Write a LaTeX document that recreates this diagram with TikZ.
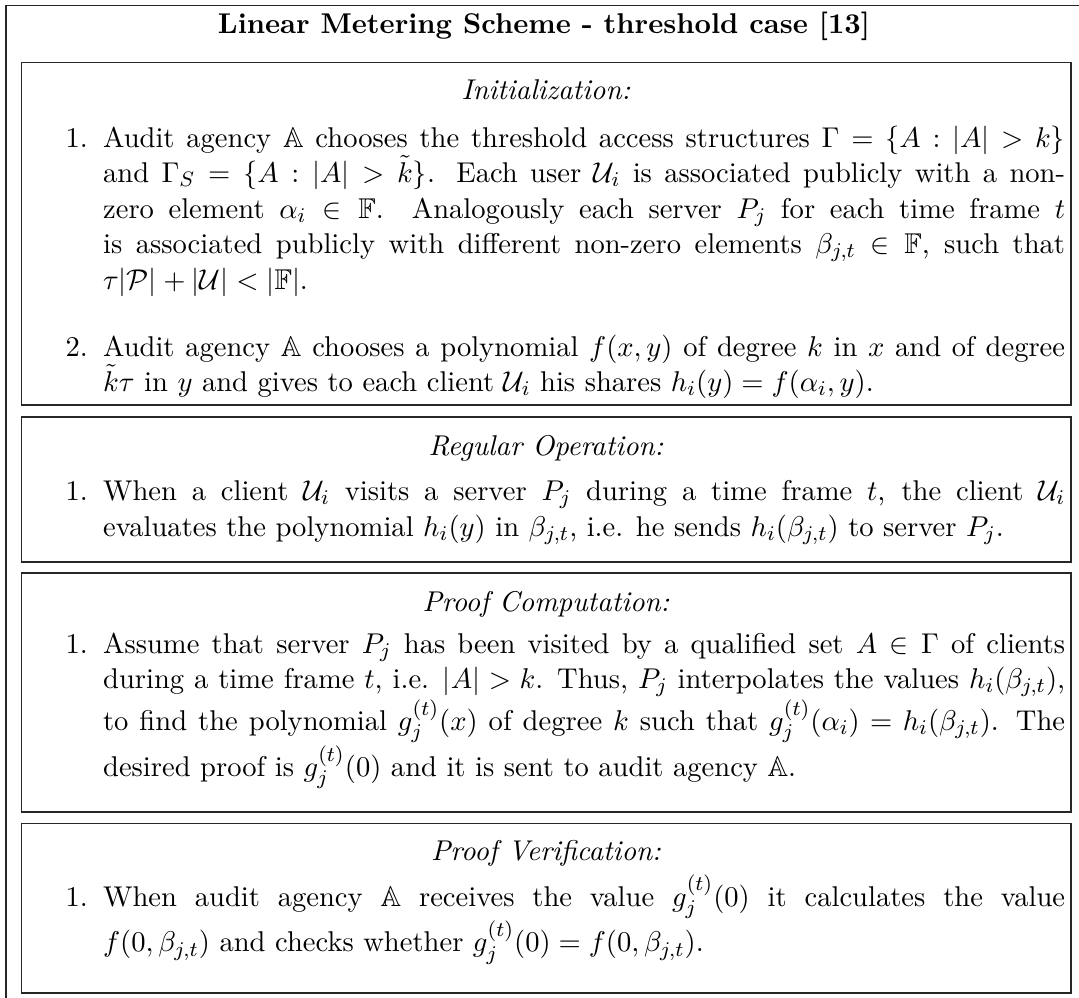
\documentclass[11pt,tikz,border=0pt]{standalone}
\usepackage{amsmath,amssymb}
\newlength\pxu
\setlength\pxu{0.3831pt}
\newlength\parw
\setlength\parw{962\pxu}
\begin{document}
\begin{tikzpicture}[x=\pxu,y=-\pxu,
  frame/.style={draw=black!85,line width=0.55pt},
  head/.style={anchor=base,inner sep=0pt,font=\itshape},
  lbl/.style={anchor=base west,inner sep=0pt},
  para/.style={anchor=base west,inner sep=0pt,text width=\parw,align=justify}]
\useasboundingbox (0,0) rectangle (1079,997);
% outer frame (open at right and bottom in the crop)
\draw[frame] (6,1000) -- (6,5.5) -- (1090,5.5);
% inner boxes
\draw[frame] (21.5,62.5) rectangle (1071,405);
\draw[frame] (21.5,417) rectangle (1071,562);
\draw[frame] (21.5,573) rectangle (1071,812);
\draw[frame] (21.5,823.5) rectangle (1071,993);

\node[anchor=base,inner sep=0pt,font=\bfseries] (title) at (544,33) {Linear Metering Scheme - threshold case [13]};

% Initialization
\node[head] (h1) at (546,99) {Initialization:};
\node[lbl] (l1a) at (65,147) {1.};
\node[para] (p1a) at (102.6,147) {Audit agency $\mathbb{A}$ chooses the threshold access structures $\Gamma=\{A:|A|>k\}$\linebreak and $\Gamma_S=\{A:|A|>\tilde{k}\}$. Each user $\mathcal{U}_i$ is associated publicly with a non-\linebreak zero element $\alpha_i\in\mathbb{F}$. Analogously each server $P_j$ for each time frame $t$\linebreak is associated publicly with different non-zero elements $\beta_{j,t}\in\mathbb{F}$, such that\linebreak $\tau|\mathcal{P}|+|\mathcal{U}|<|\mathbb{F}|$.};
\node[lbl] (l1b) at (65,356) {2.};
\node[para] (p1b) at (102.6,356) {Audit agency $\mathbb{A}$ chooses a polynomial $f(x,y)$ of degree $k$ in $x$ and of degree\linebreak $\tilde{k}\tau$ in $y$ and gives to each client $\mathcal{U}_i$ his shares $h_i(y)=f(\alpha_i,y)$.};

% Regular Operation
\node[head] (h2) at (546,455.5) {Regular Operation:};
\node[lbl] (l2) at (65,500.5) {1.};
\node[para] (p2) at (102.6,500.5) {When a client $\mathcal{U}_i$ visits a server $P_j$ during a time frame $t$, the client $\mathcal{U}_i$\linebreak evaluates the polynomial $h_i(y)$ in $\beta_{j,t}$, i.e. he sends $h_i(\beta_{j,t})$ to server $P_j$.};

% Proof Computation
\node[head] (h3) at (546,611) {Proof Computation:};
\node[lbl] (l3) at (65,653) {1.};
\node[para] (p3) at (102.6,653) {Assume that server $P_j$ has been visited by a qualified set $A\in\Gamma$ of clients\linebreak during a time frame $t$, i.e. $|A|>k$. Thus, $P_j$ interpolates the values $h_i(\beta_{j,t})$,\linebreak to find the polynomial $g_j^{(t)}(x)$ of degree $k$ such that $g_j^{(t)}(\alpha_i)=h_i(\beta_{j,t})$. The\linebreak desired proof is $g_j^{(t)}(0)$ and it is sent to audit agency $\mathbb{A}$.};

% Proof Verification
\node[head] (h4) at (546,860) {Proof Verification:};
\node[lbl] (l4) at (65,906) {1.};
\node[para] (p4) at (102.6,906) {When audit agency $\mathbb{A}$ receives the value $g_j^{(t)}(0)$ it calculates the value\linebreak $f(0,\beta_{j,t})$ and checks whether $g_j^{(t)}(0)=f(0,\beta_{j,t})$.};
\end{tikzpicture}
\end{document}
